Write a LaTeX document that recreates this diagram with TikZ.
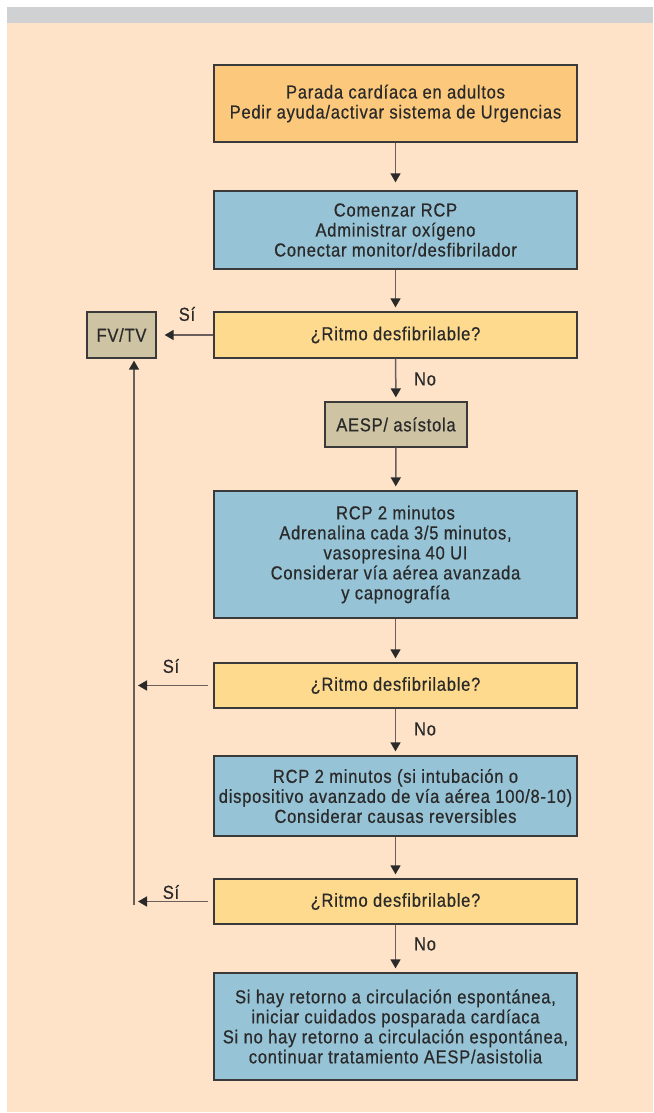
\documentclass[tikz,border=0pt]{standalone}
\usepackage{fontspec}
\setmainfont{Liberation Sans}[FakeStretch=0.88,LetterSpace=4,FakeBold=0.6]
\usetikzlibrary{arrows.meta}

\definecolor{pagebg}{HTML}{FEE3C8}
\definecolor{topbar}{HTML}{D0D1D3}
\definecolor{startfill}{HTML}{FCC97C}
\definecolor{actfill}{HTML}{96C3D6}
\definecolor{askfill}{HTML}{FEDA8E}
\definecolor{statefill}{HTML}{CEC3A3}
\definecolor{edge}{HTML}{3A3A3A}
\definecolor{wire}{HTML}{6A5F5C}
\definecolor{ink}{HTML}{2A2A2A}

\tikzset{
  basebox/.style={draw=edge, line width=1.3pt, inner sep=0pt, align=center,
    text=ink, font=\fontsize{18.8}{20}\selectfont},
  startbox/.style={basebox, fill=startfill, minimum width=363pt},
  actbox/.style={basebox, fill=actfill, minimum width=363pt},
  askbox/.style={basebox, fill=askfill, minimum width=363pt},
  statebox/.style={basebox, fill=statefill},
  conn/.style={draw=wire, line width=1.5pt,
    -{Triangle[length=9pt,width=10pt,color=ink]}, shorten >=4pt},
  lbl/.style={text=ink, font=\fontsize{18.8}{20}\selectfont, inner sep=0pt}
}

\begin{document}
\begin{tikzpicture}[x=1pt,y=-1pt]
  \useasboundingbox (0,0) rectangle (653,1113);
  % page background
  \fill[topbar] (7,7) rectangle (653,23);
  \fill[pagebg] (7,23) rectangle (653,1112);

  % main column
  \node[startbox, minimum height=77pt] (start) at (395.5,103.5)
    {Parada cardíaca en adultos\\Pedir ayuda/activar sistema de Urgencias};
  \node[actbox, minimum height=78pt] (rcp) at (395.5,230)
    {Comenzar RCP\\Administrar oxígeno\\Conectar monitor/desfibrilador};
  \node[askbox, minimum height=46pt] (ask1) at (395.5,335)
    {¿Ritmo desfibrilable?};
  \node[statebox, minimum width=142pt, minimum height=45pt] (aesp) at (396,424.5)
    {AESP/ asístola};
  \node[actbox, minimum height=127pt] (adr) at (395.5,554.5)
    {RCP 2 minutos\\Adrenalina cada 3/5 minutos,\\vasopresina 40 UI\\Considerar vía aérea avanzada\\y capnografía};
  \node[askbox, minimum height=45pt] (ask2) at (395.5,685.5)
    {¿Ritmo desfibrilable?};
  \node[actbox, minimum height=80pt] (rev) at (395.5,796)
    {RCP 2 minutos (si intubación o\\dispositivo avanzado de vía aérea 100/8-10)\\Considerar causas reversibles};
  \node[askbox, minimum height=45pt] (ask3) at (395.5,901.5)
    {¿Ritmo desfibrilable?};
  \node[actbox, minimum height=107pt] (end) at (395.5,1026.5)
    {Si hay retorno a circulación espontánea,\\iniciar cuidados posparada cardíaca\\Si no hay retorno a circulación espontánea,\\continuar tratamiento AESP/asistolia};

  % shockable branch
  \node[statebox, minimum width=69pt, minimum height=46pt] (fv) at (121.5,335) {FV/TV};
  \coordinate (loop) at (134,905);

  % vertical flow
  \draw[conn, shorten >=8pt] (start) -- (rcp);
  \draw[conn] (rcp) -- (ask1);
  \draw[conn] (ask1) -- (aesp);
  \draw[conn] (aesp) -- (adr);
  \draw[conn] (adr) -- (ask2);
  \draw[conn] (ask2) -- (rev);
  \draw[conn] (rev) -- (ask3);
  \draw[conn] (ask3) -- (end);

  % "Sí" branches
  \draw[conn, shorten >=8pt] (ask1.west) -- (fv.east);
  \draw[conn, shorten <=5pt] (ask2.west) -- (loop |- ask2.west);
  \draw[conn, shorten <=5pt] (ask3.west) -- (loop |- ask3.west);
  \draw[conn, shorten >=2pt] (loop) -- (loop |- fv.south);

  % branch labels
  \node[lbl] (si1) at (187,314) {Sí};
  \node[lbl] (si2) at (171,666) {Sí};
  \node[lbl] (si3) at (171,892) {Sí};
  \node[lbl] (no1) at (425,379) {No};
  \node[lbl] (no2) at (425,729) {No};
  \node[lbl] (no3) at (425,944) {No};
\end{tikzpicture}
\end{document}
